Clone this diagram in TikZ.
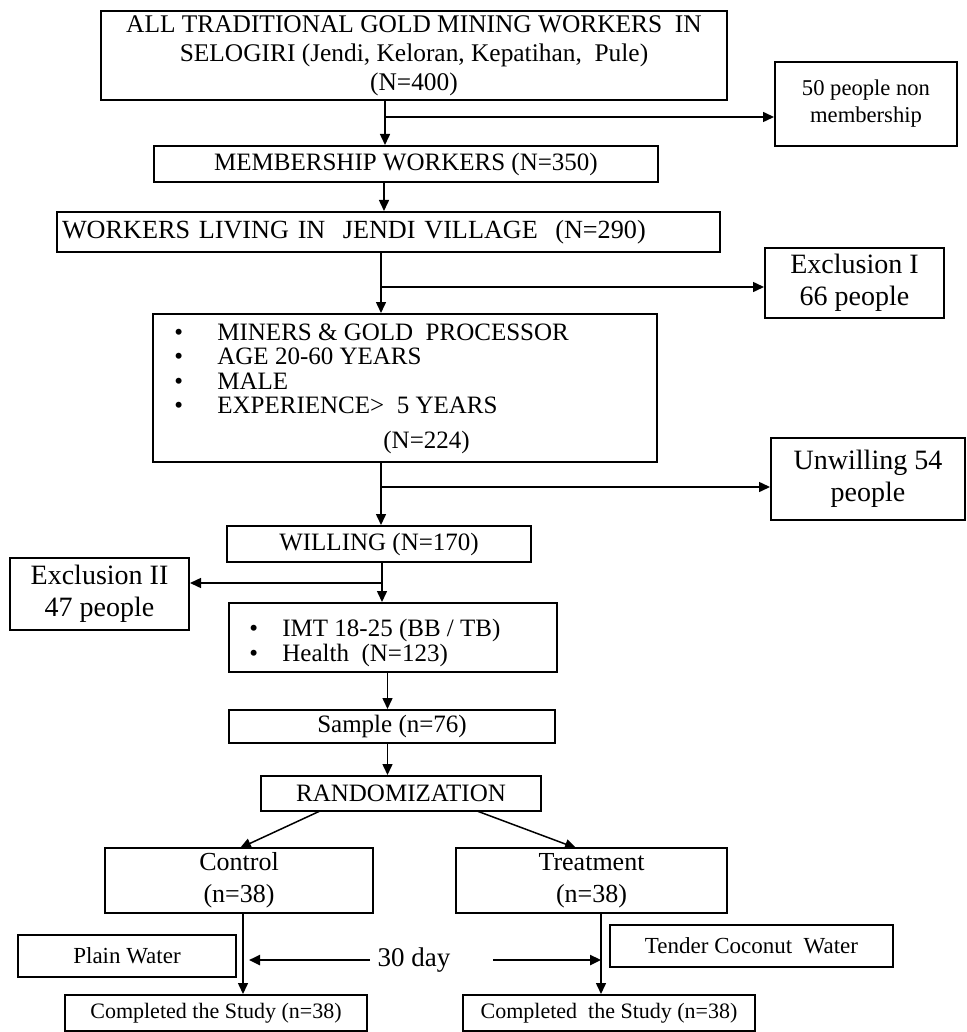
\documentclass[tikz,border=0pt]{standalone}
\usepackage{fontspec}
\setmainfont{Liberation Serif}
\usetikzlibrary{arrows.meta}
\tikzset{
  bx/.style={draw, line width=1pt, inner sep=0pt, align=center},
  arr/.style={line width=0.75pt, -{Triangle[length=5.5pt,width=5pt]}},
  ln/.style={line width=0.75pt},
  fm/.style={font=\fontsize{12.5}{14}\selectfont},
  fb/.style={font=\fontsize{14}{16}\selectfont},
  fs/.style={font=\fontsize{11.5}{13}\selectfont},
  tx/.style={inner sep=0pt, anchor=base west, fm}
}
\begin{document}
\begin{tikzpicture}[x=0.5pt,y=-0.5pt]
\useasboundingbox (0,0) rectangle (966,1032);
% boxes
\node[bx, minimum width=313pt, minimum height=44.5pt, font=\fontsize{12.7}{14.6}\selectfont] (box1) at (414,55.5)
  {ALL TRADITIONAL GOLD MINING WORKERS\ \ IN\\ SELOGIRI (Jendi, Keloran, Kepatihan,\ \ Pule)\\ (N=400)};
\node[bx, minimum width=91pt, minimum height=42pt, font=\fontsize{11.3}{13.5}\selectfont] (n50) at (866,104)
  {50 people non\\membership};
\node[bx, fm, minimum width=252pt, minimum height=18pt] (member) at (406,164) {MEMBERSHIP WORKERS (N=350)};
\node[bx, font=\fontsize{13.1}{15}\selectfont, minimum height=20pt, text width=326.5pt, inner xsep=2.5pt, align=left] (jendi) at (388.5,232)
  {WORKERS LIVING IN\ \ JENDI VILLAGE\ \ (N=290)};
\node[bx, fb, minimum width=89.5pt, minimum height=35pt] (ex1) at (854.5,283) {Exclusion I\\66 people};
\node[bx, minimum width=252pt, minimum height=74pt] (crit) at (405,388) {};
\node[tx] (c1) at (174,340.5) {\makebox[21.5pt][l]{\textbullet}MINERS \& GOLD\ \ PROCESSOR};
\node[tx] (c2) at (174,364.5) {\makebox[21.5pt][l]{\textbullet}AGE 20-60 YEARS};
\node[tx] (c3) at (174,389) {\makebox[21.5pt][l]{\textbullet}MALE};
\node[tx] (c4) at (174,413.5) {\makebox[21.5pt][l]{\textbullet}EXPERIENCE>\ \ 5 YEARS};
\node[tx] (c5) at (383,448.5) {(N=224)};
\node[bx, fb, minimum width=97pt, minimum height=41pt] (unw) at (868,479) {Unwilling 54\\people};
\node[bx, fm, minimum width=152pt, minimum height=18pt] (will) at (379,544) {WILLING (N=170)};
\node[bx, fb, minimum width=89.5pt, minimum height=36pt] (ex2) at (99.5,594) {Exclusion II\\47 people};
\node[bx, minimum width=164pt, minimum height=34.5pt] (imt) at (393,637.5) {};
\node[tx] (i1) at (249,636.5) {\makebox[16.5pt][l]{\textbullet}IMT 18-25 (BB / TB)};
\node[tx] (i2) at (249,661.5) {\makebox[16.5pt][l]{\textbullet}Health\ \ (N=123)};
\node[bx, fm, minimum width=163pt, minimum height=16.5pt] (sample) at (392,726.5) {Sample (n=76)};
\node[bx, fm, minimum width=140pt, minimum height=17.5pt] (rand) at (401,793.5) {RANDOMIZATION};
\node[bx, font=\fontsize{13}{16}\selectfont, minimum width=134pt, minimum height=32.5pt] (ctl) at (239,880.5) {Control\\(n=38)};
\node[bx, font=\fontsize{13}{16}\selectfont, minimum width=135.5pt, minimum height=32.5pt] (trt) at (591.5,880.5) {Treatment\\(n=38)};
\node[bx, fs, minimum width=109pt, minimum height=21pt] (plain) at (127,956) {Plain Water};
\node[bx, fs, minimum width=141.5pt, minimum height=21pt] (tender) at (751.5,946) {Tender Coconut\ \ Water};
\node[bx, font=\fontsize{11}{13}\selectfont, minimum width=151pt, minimum height=18pt] (comp1) at (216,1013) {Completed the Study (n=38)};
\node[bx, font=\fontsize{11}{13}\selectfont, minimum width=146pt, minimum height=18pt] (comp2) at (609,1013) {Completed\ \ the Study (n=38)};
\node[inner sep=0pt, font=\fontsize{13.5}{16}\selectfont] (day) at (414,960) {30 day};
% branch points
\coordinate (s1) at (385,117);
\coordinate (s2) at (381,287);
\coordinate (s3) at (381,487);
\coordinate (s4) at (382,583);
\coordinate (sa) at (384,0);
\coordinate (sb) at (387.5,0);
\coordinate (ra) at (320,811);
\coordinate (ca) at (240,848);
\coordinate (rb) at (477,811);
\coordinate (tb) at (576,848);
\coordinate (ctlx) at (243,0);
\coordinate (trtx) at (601,0);
\coordinate (dl) at (370,960);
\coordinate (dle) at (249,960);
\coordinate (dr) at (493,960);
\coordinate (dre) at (601,960);
% connectors
\draw[ln] (box1.south -| s1) -- (s1);
\draw[arr] (s1) -- (member.north -| s1);
\draw[arr] (s1) -- (s1 -| n50.west);
\draw[arr] (member.south -| sa) -- (jendi.north -| sa);
\draw[ln] (jendi.south -| s2) -- (s2);
\draw[arr] (s2) -- (crit.north -| s2);
\draw[arr] (s2) -- (s2 -| ex1.west);
\draw[ln] (crit.south -| s3) -- (s3);
\draw[arr] (s3) -- (will.north -| s3);
\draw[arr] (s3) -- (s3 -| unw.west);
\draw[ln] (will.south -| s4) -- (s4);
\draw[arr] (s4) -- (imt.north -| s4);
\draw[arr] (s4) -- (s4 -| ex2.east);
\draw[arr] (imt.south -| sb) -- (sample.north -| sb);
\draw[arr] (sample.south -| sb) -- (rand.north -| sb);
\draw[arr] (ra) -- (ca);
\draw[arr] (rb) -- (tb);
\draw[arr] (ctl.south -| ctlx) -- (comp1.north -| ctlx);
\draw[arr] (trt.south -| trtx) -- (comp2.north -| trtx);
\draw[arr, line width=1.2pt] (dl) -- (dle);
\draw[arr, line width=1.2pt] (dr) -- (dre);
\end{tikzpicture}
\end{document}
